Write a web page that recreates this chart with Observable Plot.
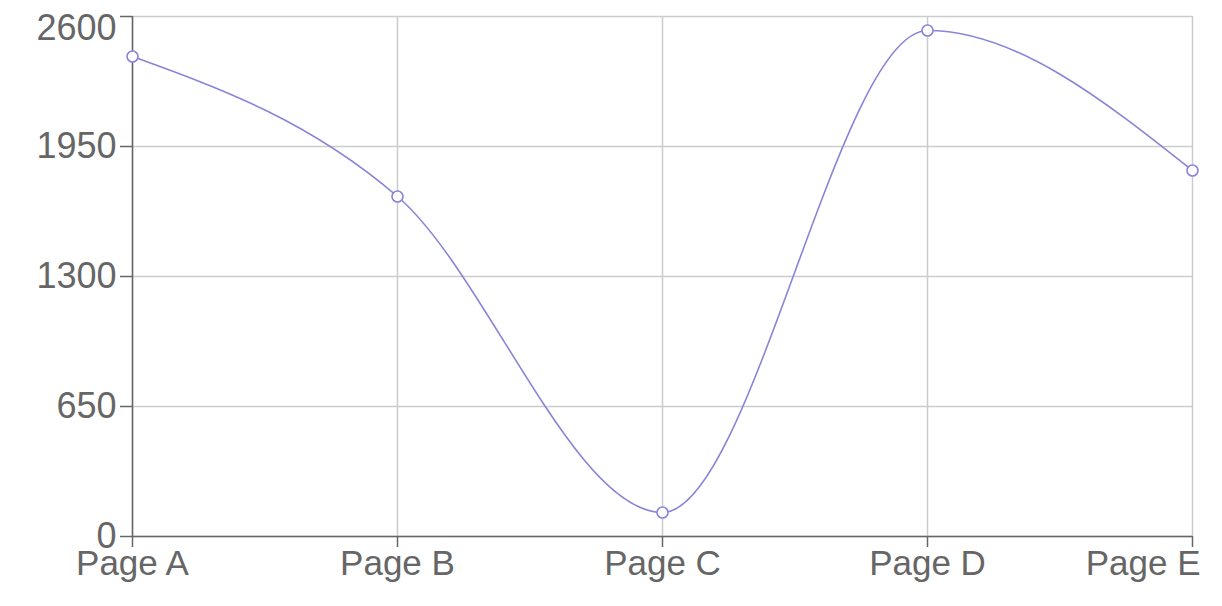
<!DOCTYPE html>
<html>
<head>
<meta charset="utf-8">
<script src="https://cdn.jsdelivr.net/npm/d3@7"></script>
<script src="https://cdn.jsdelivr.net/npm/@observablehq/plot@0.6"></script>
<style>
  html, body { margin: 0; padding: 0; background: #fff; }
  #chart svg { display: block; }
</style>
</head>
<body>
<div id="chart"></div>
<script>
const pages = ["Page A", "Page B", "Page C", "Page D", "Page E"];
const values = [2400, 1700, 120, 2530, 1830];
const yTicks = [0, 650, 1300, 1950, 2600];

const data = pages.map((p, i) => ({page: p, value: values[i]}));
const font = "Helvetica, Arial, 'Liberation Sans', sans-serif";
const color = "#8884d8";
const fmt = d => String(d);

const chart = Plot.plot({
  width: 1222,
  height: 606,
  marginLeft: 132,
  marginRight: 30,
  marginTop: 16,
  marginBottom: 70,
  style: {fontFamily: font, background: "#fff", overflow: "visible"},
  x: {type: "point", domain: pages, padding: 0, label: null},
  y: {domain: [0, 2600], label: null},
  marks: [
    Plot.gridX(pages, {stroke: "#cccccc", strokeOpacity: 1, strokeWidth: 1.5}),
    Plot.gridY(yTicks, {stroke: "#cccccc", strokeOpacity: 1, strokeWidth: 1.5}),
    // y tick lines
    Plot.axisY(yTicks, {tickSize: 12, text: null, stroke: "#666", strokeWidth: 1.5, label: null}),
    // y tick labels
    Plot.axisY(yTicks.slice(0, 4), {tickSize: 12, tickPadding: 4, fontSize: 36, fill: "#666", stroke: null, label: null, tickFormat: fmt}),
    Plot.axisY([yTicks[4]], {tickSize: 12, tickPadding: 4, fontSize: 36, fill: "#666", stroke: null, label: null, tickFormat: fmt, dy: 12}),
    // x tick lines
    Plot.axisX(pages, {tickSize: 11, text: null, stroke: "#666", strokeWidth: 1.5, label: null}),
    // x tick labels
    Plot.axisX(pages.slice(0, 4), {tickSize: 11, tickPadding: 3, fontSize: 35, fill: "#666", stroke: null, label: null}),
    Plot.axisX([pages[4]], {tickSize: 11, tickPadding: 3, fontSize: 35, fill: "#666", stroke: null, label: null, textAnchor: "end", dx: 8}),
    Plot.ruleX([pages[0]], {stroke: "#666", strokeWidth: 1.5}),
    Plot.ruleY([0], {stroke: "#666", strokeWidth: 1.5}),
    Plot.line(data, {x: "page", y: "value", curve: "monotone-x", stroke: color, strokeWidth: 1.6}),
    Plot.dot(data, {x: "page", y: "value", r: 5.5, fill: "#fff", stroke: color, strokeWidth: 1.6})
  ]
});
document.getElementById("chart").appendChild(chart);
</script>
</body>
</html>
